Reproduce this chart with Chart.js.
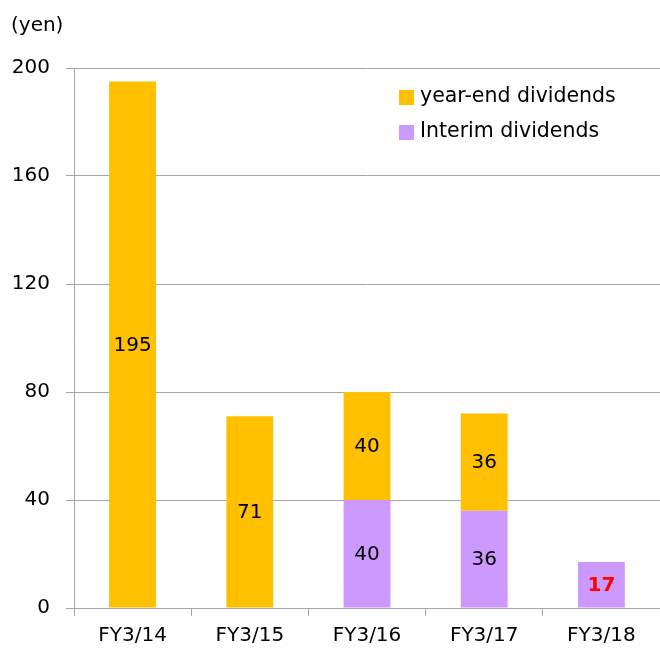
<!DOCTYPE html>
<html>
<head>
<meta charset="utf-8">
<script src="https://cdn.jsdelivr.net/npm/chart.js@4"></script>
<style>
  html, body { margin: 0; padding: 0; background: #fff; }
  #wrap { width: 660px; height: 649px; }
</style>
</head>
<body>
<div id="wrap"><canvas id="dividendChart" width="660" height="649"></canvas></div>
<script>
const fiscalYears = ['FY3/14', 'FY3/15', 'FY3/16', 'FY3/17', 'FY3/18'];
const interimDividends = [0, 0, 40, 36, 17];
const yearEndDividends = [195, 71, 40, 36, 0];
const yTicks = [0, 40, 80, 120, 160, 200];

const FONT = '"DejaVu Sans", Verdana, sans-serif';
const ORANGE = '#FFC000';
const PURPLE = '#CC99FF';
const GRID = '#A6A6A6';

// numbers in the middle of each bar segment
const barLabels = {
    id: 'barLabels',
    afterDatasetsDraw(chart) {
        const ctx = chart.ctx;
        ctx.save();
        ctx.textAlign = 'center';
        ctx.textBaseline = 'middle';
        chart.data.datasets.forEach((ds, i) => {
            chart.getDatasetMeta(i).data.forEach((bar, j) => {
                const v = ds.data[j];
                if (!v) return;
                const highlight = ds.label === 'Interim dividends' && j === fiscalYears.length - 1;
                ctx.font = (highlight ? 'bold ' : '') + '20px ' + FONT;
                ctx.fillStyle = highlight ? '#FF0000' : '#000';
                ctx.fillText(v, bar.x, (bar.y + bar.base) / 2 + 1);
            });
        });
        ctx.restore();
    }
};

// legend sits inside the plot, top right
const innerLegend = {
    id: 'innerLegend',
    afterDraw(chart) {
        const ctx = chart.ctx;
        const items = chart.data.datasets.slice().reverse();
        ctx.save();
        ctx.font = '20.5px ' + FONT;
        ctx.textBaseline = 'middle';
        items.forEach((ds, i) => {
            const y = 97 + i * 35;
            ctx.fillStyle = ds.backgroundColor;
            ctx.fillRect(399, y - 7, 15, 15);
            ctx.fillStyle = '#000';
            ctx.fillText(ds.label, 420, y);
        });
        ctx.restore();
    }
};

const ctx = document.getElementById('dividendChart').getContext('2d');
new Chart(ctx, {
    type: 'bar',
    data: {
        labels: fiscalYears,
        datasets: [
            {
                label: 'Interim dividends',
                data: interimDividends,
                backgroundColor: PURPLE,
                barPercentage: 0.5,
                categoryPercentage: 0.8
            },
            {
                label: 'year-end dividends',
                data: yearEndDividends,
                backgroundColor: ORANGE,
                barPercentage: 0.5,
                categoryPercentage: 0.8
            }
        ]
    },
    options: {
        responsive: false,
        animation: false,
        layout: { padding: { left: 11, right: 0, top: 0, bottom: 0 } },
        plugins: {
            legend: { display: false },
            tooltip: { enabled: false },
            title: {
                display: true,
                text: '(yen)',
                align: 'start',
                color: '#000',
                font: { family: FONT, size: 20, weight: 'normal' },
                padding: { top: 14, bottom: 30 }
            }
        },
        scales: {
            x: {
                stacked: true,
                afterFit(scale) { scale.height = 41; },
                grid: {
                    offset: true,
                    drawOnChartArea: false,
                    color: GRID,
                    tickLength: 8
                },
                border: { color: GRID },
                ticks: {
                    color: '#000',
                    padding: 8,
                    font: { family: FONT, size: 20 }
                }
            },
            y: {
                stacked: true,
                min: 0,
                max: 200,
                afterBuildTicks(scale) {
                    scale.ticks = yTicks.map(v => ({ value: v }));
                },
                afterFit(scale) { scale.width = 63; },
                grid: {
                    color: GRID,
                    tickLength: 8
                },
                border: { color: GRID },
                ticks: {
                    color: '#000',
                    padding: 16,
                    font: { family: FONT, size: 20 }
                }
            }
        }
    },
    plugins: [barLabels, innerLegend]
});
</script>
</body>
</html>
